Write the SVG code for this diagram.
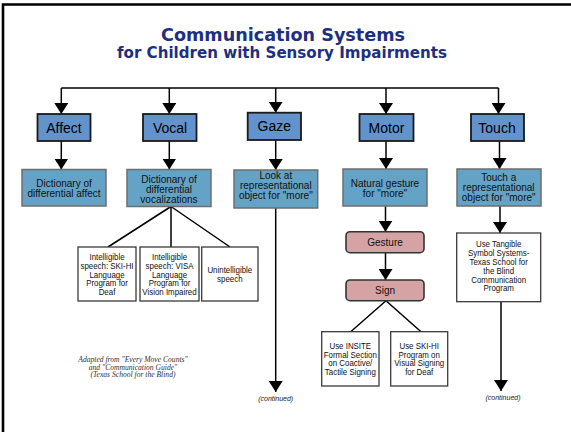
<svg xmlns="http://www.w3.org/2000/svg" width="571" height="432" viewBox="0 0 571 432">
<defs>
<marker id="ah" viewBox="0 0 11 14" refX="11" refY="7" markerWidth="11" markerHeight="14" markerUnits="userSpaceOnUse" orient="auto">
<polygon points="0,0 11,7 0,14" fill="#000"/>
</marker>
<style>
.title{font-family:"DejaVu Sans",sans-serif;font-weight:bold;fill:#1d2f7e;text-anchor:middle}
.b1{fill:#6393cd;stroke:#1a1a1a;stroke-width:1.8}
.b2{fill:#64a2c6;stroke:#6e6e6e;stroke-width:1.5}
.b3{fill:#fff;stroke:#3a3a3a;stroke-width:1.3}
.bp{fill:#d5a3a3;stroke:#333;stroke-width:1.6}
.t1{font-family:"Liberation Sans",Arial,sans-serif;font-size:14px;fill:#000;text-anchor:middle}
.t2{font-family:"Liberation Sans",Arial,sans-serif;font-size:10px;fill:#111;text-anchor:middle}
.t3{font-family:"Liberation Sans",Arial,sans-serif;font-size:8.6px;fill:#111;text-anchor:middle}
.tc{font-family:"Liberation Sans",Arial,sans-serif;font-size:7px;font-style:italic;fill:#222;text-anchor:middle}
.ta{font-family:"Liberation Serif","Times New Roman",serif;font-size:7.6px;font-style:italic;fill:#333;text-anchor:middle}
.ln{fill:none;stroke:#000;stroke-width:1.5}
.ar{fill:none;stroke:#000;stroke-width:1.5;marker-end:url(#ah)}
</style>
</defs>
<rect x="0" y="0" width="571" height="432" fill="#fff"/>
<path d="M3,432 V4.5 H571" fill="none" stroke="#000" stroke-width="2.6"/>

<g id="title">
<text class="title" x="283" y="40.5" font-size="17.6" textLength="244" lengthAdjust="spacingAndGlyphs">Communication Systems</text>
<text class="title" x="282" y="57.5" font-size="15" textLength="330" lengthAdjust="spacingAndGlyphs">for Children with Sensory Impairments</text>
</g>

<g id="connectors">
<path class="ln" d="M61.3,88 H498.5"/>
<path class="ar" d="M61.3,88 V114"/>
<path class="ar" d="M169.3,88 V114"/>
<path class="ar" d="M275.7,88 V112.7"/>
<path class="ar" d="M386,88 V114"/>
<path class="ar" d="M498.5,88 V114"/>
<path class="ar" d="M61.3,141 V169.5"/>
<path class="ar" d="M169.3,141 V169.5"/>
<path class="ar" d="M275.7,140 V170"/>
<path class="ar" d="M386,141 V169"/>
<path class="ar" d="M499.5,141 V169"/>
<path class="ln" d="M171,206.5 L108,247 M171,206.5 V247 M171,206.5 L230,247" stroke-width="1.3"/>
<path class="ar" d="M275.7,208 V392"/>
<path class="ar" d="M385.5,206 V231.7"/>
<path class="ar" d="M385.5,252.7 V280"/>
<path class="ln" d="M386,300.7 L350.7,331.7 M386,300.7 L421,331.7" stroke-width="1.3"/>
<path class="ar" d="M500,206 V233"/>
<path class="ar" d="M501,301.7 V391"/>
</g>

<g id="affect"><rect class="b1" x="37.5" y="114" width="53" height="27"/><text class="t1" x="64" y="132.5">Affect</text></g>
<g id="vocal"><rect class="b1" x="143" y="114" width="53.5" height="27"/><text class="t1" x="170" y="132.5">Vocal</text></g>
<g id="gaze"><rect class="b1" x="247.7" y="112.7" width="53.3" height="27.3"/><text class="t1" x="274.3" y="131.4">Gaze</text></g>
<g id="motor"><rect class="b1" x="359.5" y="114" width="54" height="27"/><text class="t1" x="386.5" y="132.5">Motor</text></g>
<g id="touch"><rect class="b1" x="471" y="114" width="53" height="27"/><text class="t1" x="497" y="132.5">Touch</text></g>

<g id="dict-affect"><rect class="b2" x="22" y="169.5" width="84" height="36.5"/><text class="t2"><tspan x="64" y="186.8">Dictionary of</tspan><tspan x="64" y="197.2">differential affect</tspan></text></g>
<g id="dict-vocal"><rect class="b2" x="127" y="169.5" width="84" height="37"/><text class="t2"><tspan x="169" y="182.5">Dictionary of</tspan><tspan x="169" y="192.5">differential</tspan><tspan x="169" y="202.5">vocalizations</tspan></text></g>
<g id="look"><rect class="b2" x="234" y="170" width="83.7" height="38"/><text class="t2"><tspan x="275.8" y="179.2">Look at</tspan><tspan x="275.8" y="189.2">representational</tspan><tspan x="275.8" y="199.2">object for "more"</tspan></text></g>
<g id="natural"><rect class="b2" x="343" y="169" width="84" height="37"/><text class="t2"><tspan x="385" y="186.8">Natural gesture</tspan><tspan x="385" y="197.2">for "more"</tspan></text></g>
<g id="touch-obj"><rect class="b2" x="457" y="169" width="84" height="37"/><text class="t2"><tspan x="498.7" y="180.8">Touch a</tspan><tspan x="498.7" y="190.8">representational</tspan><tspan x="498.7" y="200.8">object for "more"</tspan></text></g>

<g id="ski-hi-speech"><rect class="b3" x="78" y="247" width="58" height="54"/><text class="t3" transform="translate(107 0) scale(0.92 1)"><tspan x="0" y="260.2">Intelligible</tspan><tspan x="0" y="268.9">speech: SKI-HI</tspan><tspan x="0" y="277.6">Language</tspan><tspan x="0" y="286.3">Program for</tspan><tspan x="0" y="295">Deaf</tspan></text></g>
<g id="visa-speech"><rect class="b3" x="140" y="247" width="59" height="54"/><text class="t3" transform="translate(169.5 0) scale(0.92 1)"><tspan x="0" y="260.2">Intelligible</tspan><tspan x="0" y="268.9">speech: VISA</tspan><tspan x="0" y="277.6">Language</tspan><tspan x="0" y="286.3">Program for</tspan><tspan x="0" y="295">Vision Impaired</tspan></text></g>
<g id="unintelligible"><rect class="b3" x="201.7" y="247" width="56.3" height="54"/><text class="t3" transform="translate(229.8 0) scale(0.92 1)"><tspan x="0" y="273.2">Unintelligible</tspan><tspan x="0" y="281.9">speech</tspan></text></g>

<g id="gesture"><rect class="bp" x="346" y="231.7" width="78" height="21" rx="4"/><text class="t2" x="385" y="245.5">Gesture</text></g>
<g id="sign"><rect class="bp" x="346" y="280" width="78" height="20.7" rx="4"/><text class="t2" x="385" y="293.7">Sign</text></g>

<g id="insite"><rect class="b3" x="321.7" y="331.7" width="57.3" height="54.3"/><text class="t3" transform="translate(350.3 0) scale(0.92 1)"><tspan x="0" y="348.9">Use INSITE</tspan><tspan x="0" y="357.7">Formal Section</tspan><tspan x="0" y="366.5">on Coactive/</tspan><tspan x="0" y="375.3">Tactile Signing</tspan></text></g>
<g id="ski-hi-sign"><rect class="b3" x="390.7" y="331.7" width="57" height="54.3"/><text class="t3" transform="translate(419.2 0) scale(0.92 1)"><tspan x="0" y="348.9">Use SKI-HI</tspan><tspan x="0" y="357.7">Program on</tspan><tspan x="0" y="366.5">Visual Signing</tspan><tspan x="0" y="375.3">for Deaf</tspan></text></g>

<g id="tangible"><rect class="b3" x="456.7" y="233" width="84" height="68.7"/><text class="t3" transform="translate(498.7 0) scale(0.92 1)"><tspan x="0" y="247.5">Use Tangible</tspan><tspan x="0" y="256.3">Symbol Systems-</tspan><tspan x="0" y="265.1">Texas School for</tspan><tspan x="0" y="273.9">the Blind</tspan><tspan x="0" y="282.7">Communication</tspan><tspan x="0" y="291.5">Program</tspan></text></g>

<g id="notes">
<text class="tc" x="275.7" y="400.6">(continued)</text>
<text class="tc" x="503" y="400">(continued)</text>
<text class="ta"><tspan x="133" y="362">Adapted from "Every Move Counts"</tspan><tspan x="133" y="369.5">and "Communication Guide"</tspan><tspan x="133" y="377">(Texas School for the Blind)</tspan></text>
</g>
</svg>
